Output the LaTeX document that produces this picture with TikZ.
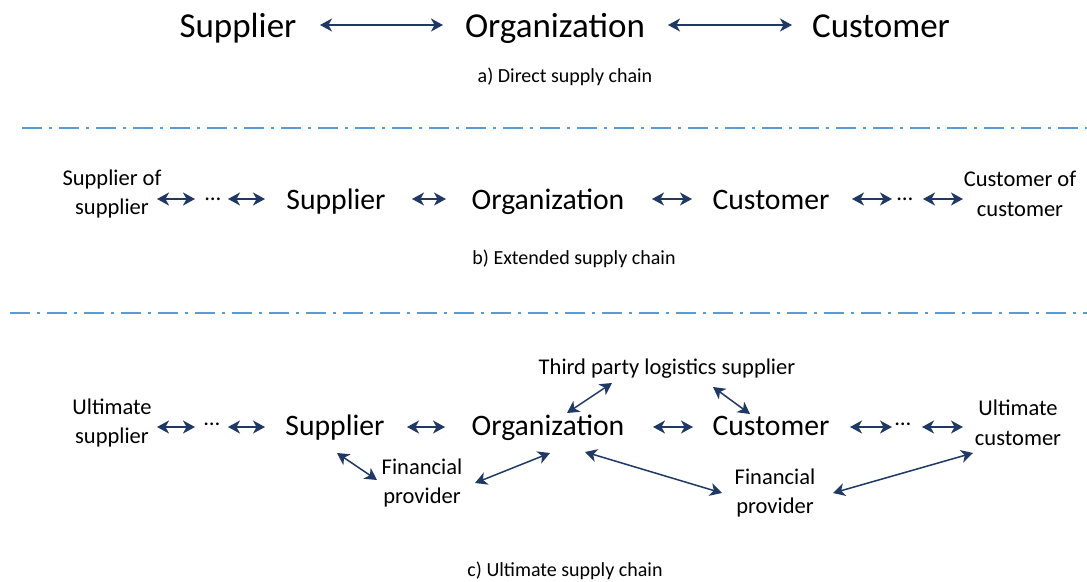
\documentclass[tikz,border=0pt]{standalone}
\usepackage{fontspec}
\setmainfont{Carlito}
\usetikzlibrary{arrows.meta}
\definecolor{navy}{RGB}{31,56,100}
\definecolor{sepblue}{RGB}{91,155,213}
\tikzset{
  x=1pt,y=-1pt,
  every node/.style={inner sep=0pt,text=black},
  bigtxt/.style={font=\fontsize{35}{42}\selectfont,anchor=base},
  midtxt/.style={font=\fontsize{29.7}{36}\selectfont,anchor=base},
  smalltxt/.style={font=\fontsize{22.5}{29.5}\selectfont,align=center},
  captxt/.style={font=\fontsize{20}{24}\selectfont},
  dots/.style={font=\fontsize{22.5}{28}\selectfont,anchor=base},
  link/.style={draw=navy,line width=1.5pt,
    {Stealth[length=12pt,width=13pt,inset=3.5pt]}-{Stealth[length=12pt,width=13pt,inset=3.5pt]}},
  sepline/.style={draw=sepblue,line width=2pt,dash pattern=on 20pt off 7pt on 3pt off 7pt}
}
\begin{document}
\begin{tikzpicture}
\useasboundingbox (0,0) rectangle (1087,581);
% row a
\node[bigtxt] (sa) at (238,37) {Supplier};
\node[bigtxt] (oa) at (555,37) {Organization};
\node[bigtxt] (ca) at (881,37) {Customer};
\node[captxt] (capA) at (565,77) {a) Direct supply chain};
\draw[link] ([shift={(82,-12)}]sa.base) -- ([shift={(-112,-12)}]oa.base);
\draw[link] ([shift={(113,-12)}]oa.base) -- ([shift={(-89,-12)}]ca.base);
\draw[sepline] (22,128) -- (1087,128);
% row b
\node[smalltxt] (sos) at (112,194) {Supplier of\\supplier};
\node[dots] (d1) at (213,200) {…};
\node[midtxt] (sb) at (336,209) {Supplier};
\node[midtxt] (ob) at (548,209) {Organization};
\node[midtxt] (cb) at (771,209) {Customer};
\node[dots] (d2) at (905,200) {…};
\node[smalltxt] (coc) at (1020,194) {Customer of\\customer};
\node[captxt] (capB) at (574,259) {b) Extended supply chain};
\draw[link] ([shift={(45,5)}]sos.center) -- ([shift={(-18,-1)}]d1.base);
\draw[link] ([shift={(15,-1)}]d1.base) -- ([shift={(-71,-10)}]sb.base);
\draw[link] ([shift={(76,-10)}]sb.base) -- ([shift={(-102,-10)}]ob.base);
\draw[link] ([shift={(104,-10)}]ob.base) -- ([shift={(-79,-10)}]cb.base);
\draw[link] ([shift={(81,-10)}]cb.base) -- ([shift={(-13,-1)}]d2.base);
\draw[link] ([shift={(18,-1)}]d2.base) -- ([shift={(-57,5)}]coc.center);
\draw[sepline] (10,313) -- (1087,313);
% row c
\node[smalltxt] (us) at (112,423) {Ultimate\\supplier};
\node[dots] (d3) at (212,425) {…};
\node[midtxt] (sc) at (335,435) {Supplier};
\node[midtxt] (oc) at (548,435) {Organization};
\node[midtxt] (cc) at (771,435) {Customer};
\node[dots] (d4) at (903,425) {…};
\node[smalltxt] (uc) at (1018,423) {Ultimate\\customer};
\node[smalltxt,anchor=base] (tp) at (667,374) {Third party logistics supplier};
\node[smalltxt] (fp1) at (422,483) {Financial\\provider};
\node[smalltxt] (fp2) at (775,493) {Financial\\provider};
\node[captxt] (capC) at (565,571) {c) Ultimate supply chain};
\draw[link] ([shift={(45,4)}]us.center) -- ([shift={(-17,2)}]d3.base);
\draw[link] ([shift={(16,2)}]d3.base) -- ([shift={(-70,-8)}]sc.base);
\draw[link] ([shift={(72,-8)}]sc.base) -- ([shift={(-103,-8)}]oc.base);
\draw[link] ([shift={(105,-8)}]oc.base) -- ([shift={(-78,-8)}]cc.base);
\draw[link] ([shift={(79,-8)}]cc.base) -- ([shift={(-11,2)}]d4.base);
\draw[link] ([shift={(19,2)}]d4.base) -- ([shift={(-55,4)}]uc.center);
\draw[link] ([shift={(-55,9)}]tp.base) -- ([shift={(19,-22)}]oc.base);
\draw[link] ([shift={(46,13)}]tp.base) -- ([shift={(-21,-21)}]cc.base);
\draw[link] ([shift={(2,18)}]sc.base) -- ([shift={(-45,-3)}]fp1.center);
\draw[link] ([shift={(53,0)}]fp1.center) -- ([shift={(2,18)}]oc.base);
\draw[link] ([shift={(37,17)}]oc.base) -- ([shift={(-53,0)}]fp2.center);
\draw[link] ([shift={(58,0)}]fp2.center) -- ([shift={(-45,30)}]uc.center);
\end{tikzpicture}
\end{document}
